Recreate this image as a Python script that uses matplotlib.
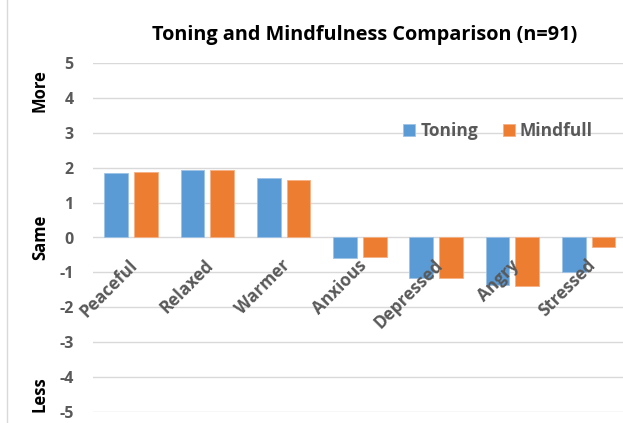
import matplotlib
matplotlib.use("Agg")
import matplotlib.pyplot as plt
import numpy as np

categories = ["Peaceful", "Relaxed", "Warmer", "Anxious", "Depressed", "Angry", "Stressed"]
toning = [1.86, 1.92, 1.71, -0.58, -1.16, -1.37, -0.99]
mindfull = [1.89, 1.92, 1.65, -0.56, -1.15, -1.39, -0.27]
yticks = [5, 4, 3, 2, 1, 0, -1, -2, -3, -4, -5]
side_labels = [("More", 4.2), ("Same", 0.0), ("Less", -4.5)]

plt.rcParams["font.family"] = ["Open Sans", "DejaVu Sans"]

BLUE = "#5B9BD5"
ORANGE = "#ED7D31"
GREY = "#595959"
GRID = "#D9D9D9"

W, H = 623, 423
fig = plt.figure(figsize=(W / 100, H / 100), dpi=100)
fig.patch.set_facecolor("white")

# plot area in pixel coordinates
left, right, top, bottom = 93, 623, 63, 412
ax = fig.add_axes([left / W, 1 - bottom / H, (right - left) / W, (bottom - top) / H])

x = np.arange(len(categories))
bw = 0.31
off = 0.195
ax.bar(x - off, toning, bw, color=BLUE, edgecolor="#9DC3E6", linewidth=0.6, label="Toning", zorder=3)
ax.bar(x + off, mindfull, bw, color=ORANGE, edgecolor="#F4B183", linewidth=0.6, label="Mindfull", zorder=3)

ax.set_xlim(-0.5, 6.45)
ax.set_ylim(-5, 5)
ax.set_yticks(yticks)
ax.set_yticklabels([str(v) for v in yticks], color=GREY, fontsize=11.5, fontweight="bold")
ax.tick_params(axis="y", length=0, pad=14)
ax.set_xticks([])
ax.grid(axis="y", color=GRID, linewidth=1, zorder=0)
for s in ax.spines.values():
    s.set_visible(False)

# category labels sit just below the zero line, rotated
for xi, name in zip(x, categories):
    ax.text(xi + 0.05, -0.72, name, rotation=45, rotation_mode="anchor",
            ha="right", va="center", fontsize=12.3, fontweight="bold", color=GREY, zorder=4)

# side annotations for the value scale
for text, yv in side_labels:
    fig.text(40 / W, ax.transData.transform((0, yv))[1] / H, text, rotation=90,
             ha="center", va="center", fontsize=12, fontweight="bold", color="black")

fig.text(365 / W, 1 - 35 / H, "Toning and Mindfulness Comparison (n=91)",
         ha="center", va="center", fontsize=14.3, fontweight="bold", color="black")

leg = ax.legend(loc="center", bbox_to_anchor=((498 - left) / (right - left), (bottom - 131) / (bottom - top)),
                ncol=2, frameon=False, fontsize=12.5, handlelength=0.7, handleheight=0.7,
                handletextpad=0.3, columnspacing=1.4, borderpad=0)
for t in leg.get_texts():
    t.set_color(GREY)
    t.set_fontweight("bold")

# chart frame edge on the left
fig.add_artist(plt.Line2D([7 / W, 7 / W], [0, 1], color="#D9D9D9", linewidth=1))

fig.savefig("out.png", dpi=100, facecolor="white")
